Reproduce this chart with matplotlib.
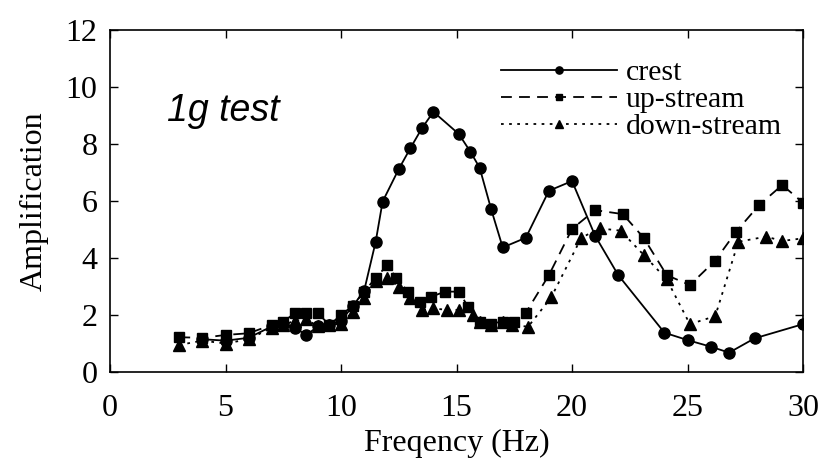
import matplotlib
matplotlib.use("Agg")
import matplotlib.pyplot as plt

# crest (circles, solid line)
crest_x = [4, 5, 6, 7, 7.5, 8, 8.5, 9, 9.5, 10, 10.5, 11, 11.5, 11.8, 12.5, 13, 13.5, 14,
           15.1, 15.6, 16, 16.5, 17, 18, 19, 20, 21, 22, 24, 25, 26, 26.8, 27.9, 30]
crest_y = [1.15, 1.1, 1.2, 1.6, 1.7, 1.55, 1.3, 1.6, 1.65, 1.8, 2.3, 2.85, 4.57, 5.98, 7.12, 7.85, 8.55, 9.13,
           8.35, 7.73, 7.17, 5.71, 4.37, 4.71, 6.36, 6.7, 4.78, 3.4, 1.38, 1.12, 0.89, 0.68, 1.18, 1.68]

# up-stream (squares, dashed line)
up_x = [3, 4, 5, 6, 7, 7.5, 8, 8.5, 9, 9.5, 10, 10.5, 11, 11.5, 12, 12.4, 12.9, 13.4, 13.9, 14.5,
        15.1, 15.5, 16, 16.5, 17, 17.5, 18, 19, 20, 21, 22.2, 23.1, 24.1, 25.1, 26.2, 27.1, 28.1, 29.1, 30]
up_y = [1.22, 1.2, 1.3, 1.36, 1.65, 1.77, 2.06, 2.06, 2.06, 1.65, 2.0, 2.32, 2.82, 3.3, 3.75, 3.29, 2.82, 2.47, 2.64, 2.82,
        2.82, 2.29, 1.77, 1.7, 1.77, 1.75, 2.08, 3.4, 5.02, 5.68, 5.54, 4.71, 3.4, 3.05, 3.91, 4.92, 5.86, 6.56, 5.94]

# down-stream (triangles, dotted line)
down_x = [3, 4, 5, 6, 7, 7.5, 8, 8.5, 9, 9.5, 10, 10.5, 11, 11.5, 12, 12.5, 13, 13.5, 14, 14.6,
          15.1, 15.7, 16, 16.5, 17, 17.4, 18.1, 19.1, 20.4, 21.2, 22.1, 23.1, 24.1, 25.1, 26.2, 27.2, 28.4, 29.1, 30]
down_y = [0.95, 1.1, 1.0, 1.15, 1.55, 1.65, 1.8, 1.85, 1.6, 1.65, 1.7, 2.1, 2.6, 3.2, 3.3, 2.99, 2.6, 2.18, 2.23, 2.18,
          2.18, 2.0, 1.75, 1.65, 1.75, 1.65, 1.59, 2.62, 4.71, 5.04, 4.96, 4.11, 3.25, 1.68, 1.96, 4.57, 4.75, 4.6, 4.69]

x_ticks = [0, 5, 10, 15, 20, 25, 30]
y_ticks = [0, 2, 4, 6, 8, 10, 12]

plt.rcParams["font.family"] = ["Liberation Serif", "DejaVu Serif"]

fig = plt.figure(figsize=(8.18, 4.66), dpi=100)
ax = fig.add_axes([0.1345, 0.2017, 0.8472, 0.7339])

ax.plot(crest_x, crest_y, color="black", lw=1.3, ls="-", marker="o", ms=8, label="crest")
ax.plot(up_x, up_y, color="black", lw=1.3, ls=(0, (6, 4)), marker="s", ms=7.5, label="up-stream")
ax.plot(down_x, down_y, color="black", lw=1.3, ls=(0, (1.5, 3)), marker="^", ms=8, label="down-stream")

ax.set_xlim(0, 30)
ax.set_ylim(0, 12)
ax.set_xticks(x_ticks)
ax.set_yticks(y_ticks)
ax.tick_params(direction="in", length=6, width=1, top=True, right=True, labelsize=23)
ax.tick_params(axis="x", pad=16)
ax.tick_params(axis="y", pad=9)
for s in ax.spines.values():
    s.set_linewidth(1.2)

ax.set_xlabel("Freqency (Hz)", fontsize=23, labelpad=4)
ax.set_ylabel("Amplification", fontsize=23, labelpad=12)

ax.text(2.45, 9.15, "1g test", fontsize=27, style="italic", family=["Liberation Sans", "DejaVu Sans"],
        va="center", ha="left")

leg = ax.legend(loc="upper right", bbox_to_anchor=(1.0, 0.975), frameon=False, fontsize=21.5,
                handlelength=3.9, handletextpad=0.3, labelspacing=0.0, borderaxespad=0.3,
                markerscale=0.65)

fig.savefig("out.png", dpi=100)
